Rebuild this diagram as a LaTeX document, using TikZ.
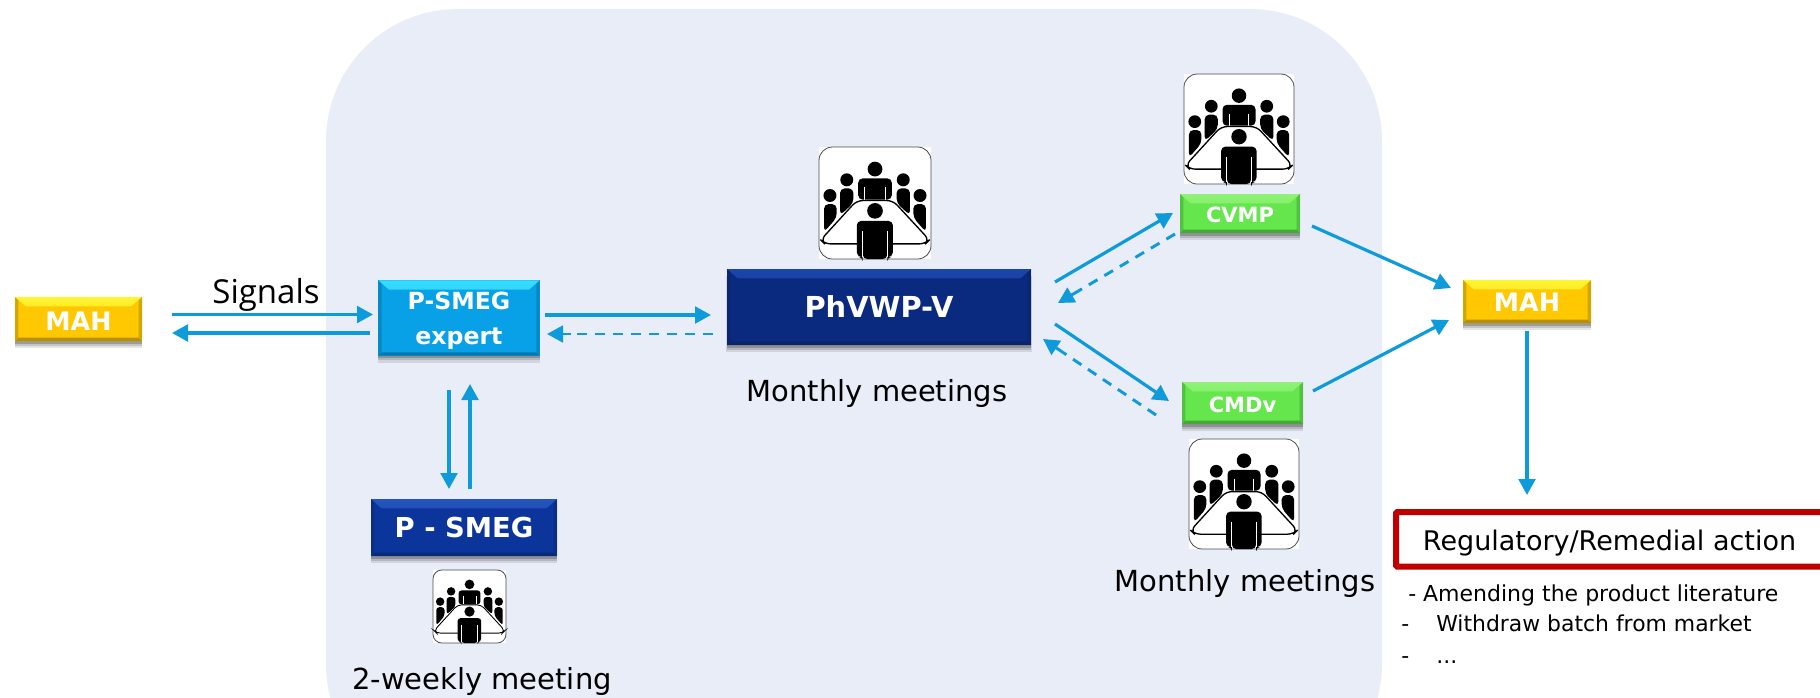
\documentclass[tikz,border=0pt]{standalone}
\usepackage{fontspec}
\setmainfont{DejaVu Sans}
\newfontfamily\opensans{Open Sans}
\usetikzlibrary{arrows.meta,shadows,calc}
\definecolor{panelc}{HTML}{E9EDF7}
\definecolor{flowc}{HTML}{0E9BDC}
\definecolor{redc}{HTML}{C00000}
\definecolor{ymain}{HTML}{FFC800}\definecolor{ylight}{HTML}{FFF533}\definecolor{ydark}{HTML}{B89000}
\definecolor{bmain}{HTML}{08A0E6}\definecolor{blight}{HTML}{38DCFF}\definecolor{bdark}{HTML}{0578AE}
\definecolor{nmain}{HTML}{0A2A80}\definecolor{nlight}{HTML}{1B45A8}\definecolor{ndark}{HTML}{0A2468}
\definecolor{smain}{HTML}{0B359B}\definecolor{slight}{HTML}{2456BE}\definecolor{sdark}{HTML}{0A2A78}
\definecolor{gmain}{HTML}{66E64D}\definecolor{glight}{HTML}{8FF277}\definecolor{gdark}{HTML}{45A838}
\newcommand{\px}[2]{\fontsize{\fpeval{#1*0.75}pt}{\fpeval{#1*0.9}pt}\selectfont #2}
\tikzset{
  x=0.75pt,y=-0.75pt,
  flow/.style={draw=flowc,line width=2.4pt,-{Triangle[length=12pt,width=12.5pt]}},
  backline/.style={draw=flowc,line width=2.2pt,dash pattern=on 7.5pt off 6pt},
  backhead/.style={draw=flowc,line width=2.2pt,-{Triangle[length=12pt,width=12.5pt]}},
  softshadow/.style={
    drop shadow={shadow xshift=0pt,shadow yshift=-5pt,shadow scale=1.005,opacity=.10,fill=black},
    drop shadow={shadow xshift=0pt,shadow yshift=-3.5pt,shadow scale=1.0,opacity=.14,fill=black},
    drop shadow={shadow xshift=0pt,shadow yshift=-2pt,shadow scale=1.0,opacity=.20,fill=black}},
  bevelbox/.style n args={3}{
    rectangle,inner sep=0pt,text=white,font=\bfseries,align=center,
    fill=#1,softshadow,
    path picture={
      \shade[top color=#2,bottom color=#1] (path picture bounding box.north west) -- (path picture bounding box.north east)
        -- ([shift={(-8pt,-7pt)}]path picture bounding box.north east)
        -- ([shift={(8pt,-7pt)}]path picture bounding box.north west) -- cycle;
      \fill[#3] (path picture bounding box.south west) -- (path picture bounding box.south east)
        -- ([shift={(-2.5pt,2.5pt)}]path picture bounding box.south east)
        -- ([shift={(2.5pt,2.5pt)}]path picture bounding box.south west) -- cycle;
      \fill[#3,opacity=.6] (path picture bounding box.north east) -- (path picture bounding box.south east)
        -- ([shift={(-2.5pt,2.5pt)}]path picture bounding box.south east)
        -- ([shift={(-2.5pt,-2.5pt)}]path picture bounding box.north east) -- cycle;
      \fill[#3,opacity=.6] (path picture bounding box.north west) -- (path picture bounding box.south west)
        -- ([shift={(2.5pt,2.5pt)}]path picture bounding box.south west)
        -- ([shift={(2.5pt,-2.5pt)}]path picture bounding box.north west) -- cycle;
    }},
  yellowbox/.style={bevelbox={ymain}{ylight}{ydark}},
  bluebox/.style={bevelbox={bmain}{blight}{bdark}},
  navybox/.style={bevelbox={nmain}{nlight}{ndark}},
  smegbox/.style={bevelbox={smain}{slight}{sdark}},
  greenbox/.style={bevelbox={gmain}{glight}{gdark}},
  pics/meeting/.style={code={
    \begin{scope}[x=#1*0.75pt,y=-#1*0.75pt]
      \fill[white] (0,0) rectangle (1,1);
      \draw[black!70,line width=.6pt,fill=white,rounded corners={#1*0.09pt}] (0,0) rectangle (1,1);
      \fill[black] (0.5,0.197) circle[radius=0.066];
      \foreach \s in {0,1}{
        \begin{scope}[xshift={\s*#1*0.75pt},x={(\fpeval{(1-2*\s)*#1*0.75}pt,0)}]
        \fill[black] (0.248,0.293) circle[radius=0.058];
        \fill[black] (0.098,0.433) circle[radius=0.058];
        \fill[black,rounded corners={#1*0.03pt}] (0.188,0.61) -- (0.188,0.37) -- (0.307,0.37) -- (0.307,0.50) -- cycle;
        \fill[black,rounded corners={#1*0.03pt}] (0.045,0.76) -- (0.045,0.51) -- (0.158,0.51) -- (0.158,0.63) -- cycle;
        \end{scope}
      }
      \fill[black,rounded corners={#1*0.03pt}] (0.35,0.47) -- (0.35,0.28) -- (0.65,0.28) -- (0.65,0.47) -- cycle;
      \draw[white,line width={#1*0.006pt}] (0.41,0.36) -- (0.41,0.47) (0.59,0.36) -- (0.59,0.47);
      \filldraw[fill=white,draw=black,line width={#1*0.009pt},rounded corners={#1*0.04pt}] (0.337,0.478) -- (0.66,0.478) -- (0.985,0.83) -- (0.95,0.865) -- (0.05,0.865) -- (0.015,0.83) -- cycle;
      \fill[black] (0.5,0.57) circle[radius=0.07];
      \fill[black,rounded corners={#1*0.03pt}] (0.337,0.98) -- (0.337,0.66) -- (0.66,0.66) -- (0.66,0.98) -- (0.61,0.98) -- (0.61,1) -- (0.39,1) -- (0.39,0.98) -- cycle;
      \draw[white,line width={#1*0.007pt}] (0.39,0.75) -- (0.39,0.98) (0.61,0.75) -- (0.61,0.98);
    \end{scope}
  }},
  plain/.style={inner sep=0pt,anchor=base,text=black},
}
\begin{document}
\begin{tikzpicture}
\useasboundingbox (0,0) rectangle (1820,697);
\clip (0,0) rectangle (1820,697);
\fill[white] (0,0) rectangle (1820,697);
\fill[panelc,rounded corners=99pt] (326,9) rectangle (1382,796);

\node[yellowbox,minimum width=95.25pt,minimum height=33pt] (mahL) at (78.5,319) {\rule{0pt}{17pt}\px{25.4}{MAH}};
\node[bluebox,minimum width=121pt,minimum height=56.5pt] (expert) at (459,318) {\rule{0pt}{17pt}\px{23.6}{P-SMEG}\\[12.5pt]\px{23.6}{expert}};
\node[smegbox,minimum width=139.5pt,minimum height=42.75pt] (smeg) at (464,527.5) {\px{27.4}{P - SMEG}};
\node[navybox,minimum width=228pt,minimum height=57pt] (phv) at (879,307) {\px{28.9}{PhVWP-V}};
\node[greenbox,minimum width=90pt,minimum height=29.25pt] (cvmp) at (1240,213.5) {\rule{0pt}{13pt}\px{21}{CVMP}};
\node[greenbox,minimum width=90.75pt,minimum height=31.5pt] (cmdv) at (1242.5,403) {\rule{0pt}{14.5pt}\px{21}{CMDv}};
\node[yellowbox,minimum width=96pt,minimum height=32.25pt] (mahR) at (1527,301.5) {\rule{0pt}{15.5pt}\px{25.4}{MAH}};

\pic at (433,570) {meeting=73};
\pic at (819,147) {meeting=112};
\pic at (1184,74) {meeting=110};
\pic at (1189,439) {meeting=110};

\node[plain] (signals) at (266,303) {\px{33}{\opensans Signals}};
\node[plain] (mtgA) at (877,401) {\px{29}{Monthly meetings}};
\node[plain] (mtgB) at (1245,591) {\px{29}{Monthly meetings}};
\node[plain] (mtgC) at (482,689) {\px{29}{2-weekly meeting}};

\node[draw=redc,line width=4.5pt,rounded corners=1pt,fill=white,minimum width=330pt,minimum height=41pt,anchor=north west,inner sep=0pt,outer sep=0pt] (red) at (1396,512) {};
\node[plain] (act) at (1609.5,550) {\px{27}{Regulatory/Remedial action}};
\node[plain,anchor=base west] (la) at (1408,601) {\px{22}{- Amending the product literature}};
\node[plain,anchor=base west] (lb) at (1401,631) {\px{22}{-}};
\node[plain,anchor=base west] (lbt) at (1436,631) {\px{21.9}{Withdraw batch from market}};
\node[plain,anchor=base west] (lc) at (1401,663) {\px{22}{-}};
\node[plain,anchor=base west] (lct) at (1436,663) {\px{22}{...}};

\coordinate (a1) at (172,314.5); \coordinate (a2) at (373,314.5);
\coordinate (b1) at (370,333); \coordinate (b2) at (172,333);
\coordinate (c1) at (545,315); \coordinate (c2) at (711,315);
\coordinate (d1) at (713,334); \coordinate (d2) at (547,334);
\coordinate (e1) at (449,390); \coordinate (e2) at (449,489);
\coordinate (f1) at (470,489); \coordinate (f2) at (470,384);
\coordinate (g1) at (1055,282); \coordinate (g2) at (1173,213);
\coordinate (h1) at (1175,234); \coordinate (h2) at (1058,303);
\coordinate (i1) at (1055,324); \coordinate (i2) at (1169,401);
\coordinate (j1) at (1156,415); \coordinate (j2) at (1043,339);
\coordinate (k1) at (1312,226); \coordinate (k2) at (1451,288);
\coordinate (l1) at (1313,391); \coordinate (l2) at (1449,320);
\coordinate (m1) at (1527,331); \coordinate (m2) at (1527,495);
\draw[flow] (a1) -- (a2);
\draw[flow] (b1) -- (b2);
\draw[flow] (c1) -- (c2);
\draw[flow] (e1) -- (e2);
\draw[flow] (f1) -- (f2);
\draw[flow] (g1) -- (g2);
\draw[flow] (i1) -- (i2);
\draw[flow] (k1) -- (k2);
\draw[flow] (l1) -- (l2);
\draw[flow] (m1) -- (m2);
\foreach \p/\q in {d1/d2,h1/h2,j1/j2}{
  \draw[backline] (\p) -- ($(\q)!18pt!(\p)$);
  \draw[backhead] ($(\q)!18pt!(\p)$) -- (\q);
}
\end{tikzpicture}
\end{document}
